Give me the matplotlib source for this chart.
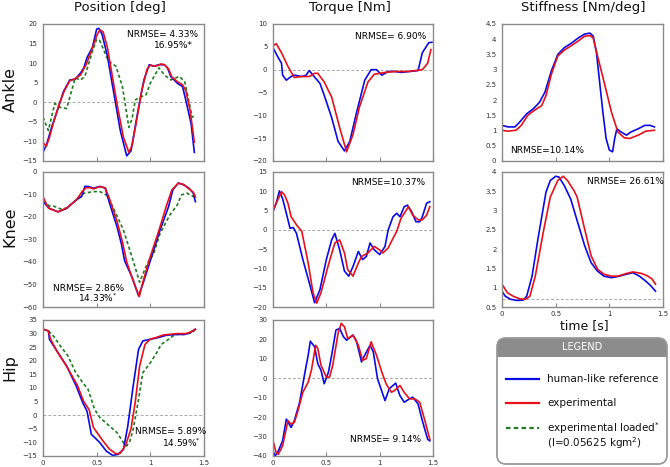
import matplotlib
matplotlib.use("Agg")
import matplotlib.pyplot as plt
from matplotlib.patches import FancyBboxPatch, Rectangle
from matplotlib.lines import Line2D

# ---------------- DATA ----------------
# Ankle position [deg]
ank_pos_ref_t = [0, 0.034, 0.08, 0.14, 0.19, 0.25, 0.30, 0.35, 0.38, 0.41, 0.46, 0.50, 0.52, 0.55, 0.60, 0.66, 0.72, 0.78, 0.82, 0.88, 0.94, 0.99, 1.03, 1.08, 1.13, 1.16, 1.19, 1.25, 1.30, 1.33, 1.38, 1.41]
ank_pos_ref = [-12.8, -10.7, -6.4, -1.6, 2.7, 5.7, 5.9, 7.5, 8.8, 11.4, 14.0, 18.7, 18.9, 17.4, 11.8, 2.3, -7.2, -13.7, -12.4, -2.9, 5.7, 9.6, 9.2, 9.6, 9.6, 8.8, 6.6, 4.9, 4.0, 0.6, -5.5, -12.8]
ank_pos_exp_t = [0, 0.03, 0.06, 0.10, 0.15, 0.20, 0.25, 0.30, 0.35, 0.40, 0.45, 0.50, 0.53, 0.56, 0.60, 0.65, 0.70, 0.75, 0.80, 0.83, 0.87, 0.92, 0.97, 1.00, 1.05, 1.10, 1.13, 1.17, 1.20, 1.25, 1.30, 1.33, 1.37, 1.41]
ank_pos_exp = [-10.2, -11.3, -9.0, -5.0, -0.5, 3.0, 5.5, 6.0, 7.0, 9.5, 13.0, 17.0, 18.5, 18.0, 14.0, 6.0, -2.0, -9.0, -12.8, -11.0, -5.0, 3.0, 8.5, 9.5, 9.2, 9.8, 9.6, 8.5, 6.5, 5.3, 4.5, 3.0, -2.0, -10.2]
ank_pos_load_t = [0, 0.05, 0.11, 0.16, 0.22, 0.30, 0.35, 0.39, 0.46, 0.50, 0.53, 0.61, 0.68, 0.74, 0.80, 0.83, 0.86, 0.91, 0.96, 1.00, 1.08, 1.13, 1.19, 1.27, 1.32, 1.35, 1.39, 1.42]
ank_pos_load = [-3.8, -7.2, -0.3, -1.3, -1.6, 6.2, 5.7, 6.6, 13.0, 16.1, 15.7, 10.5, 9.2, 4.0, -6.4, -4.2, 0.6, 1.4, 1.9, 4.9, 8.8, 7.0, 5.7, 6.6, 5.3, 1.4, -3.8, -3.5]

# Knee position [deg]
kn_pos_ref_t = [0, 0.06, 0.14, 0.22, 0.31, 0.36, 0.39, 0.42, 0.47, 0.53, 0.58, 0.62, 0.69, 0.73, 0.76, 0.83, 0.89, 0.93, 1.00, 1.09, 1.17, 1.21, 1.26, 1.31, 1.36, 1.40, 1.42]
kn_pos_ref = [-13.2, -16.2, -17.7, -16.2, -12.4, -10.9, -6.4, -6.4, -7.2, -6.4, -7.2, -13.9, -24.4, -31.9, -39.4, -46.8, -55.0, -49.8, -39.4, -25.9, -15.4, -7.9, -4.9, -5.7, -7.2, -9.4, -13.2]
kn_pos_exp_t = [0, 0.05, 0.14, 0.22, 0.31, 0.36, 0.40, 0.44, 0.47, 0.53, 0.58, 0.62, 0.69, 0.74, 0.78, 0.83, 0.897, 0.93, 0.99, 1.08, 1.15, 1.20, 1.26, 1.31, 1.36, 1.40, 1.42]
kn_pos_exp = [-11.0, -16.0, -17.7, -16.0, -12.5, -9.0, -7.0, -7.0, -7.5, -6.5, -7.0, -12.0, -22.0, -31.0, -40.0, -47.0, -55.4, -49.0, -39.0, -26.0, -15.0, -8.0, -5.0, -5.5, -7.5, -9.0, -11.0]
kn_pos_load_t = [0, 0.06, 0.10, 0.17, 0.22, 0.31, 0.38, 0.47, 0.53, 0.59, 0.65, 0.75, 0.83, 0.90, 0.97, 1.03, 1.09, 1.18, 1.25, 1.29, 1.34, 1.40, 1.43]
kn_pos_load = [-13.0, -15.1, -15.2, -16.5, -16.0, -12.4, -9.5, -8.7, -8.7, -10.2, -15.4, -25.9, -37.9, -49.0, -40.8, -36.4, -27.4, -19.2, -14.7, -10.2, -9.4, -10.9, -11.7]

# Hip position [deg]
hip_pos_ref_t = [0, 0.05, 0.06, 0.12, 0.22, 0.31, 0.37, 0.41, 0.43, 0.45, 0.53, 0.59, 0.65, 0.70, 0.75, 0.79, 0.84, 0.89, 0.93, 1.00, 1.07, 1.15, 1.25, 1.32, 1.37, 1.42]
hip_pos_ref = [31.6, 31.0, 27.9, 24.2, 18.1, 10.7, 4.6, 1.5, -2.7, -7.0, -10.1, -13.2, -14.8, -14.4, -12.5, -4.0, 10.7, 24.2, 27.3, 27.9, 28.5, 29.4, 29.7, 29.7, 30.3, 31.6]
hip_pos_exp_t = [0, 0.05, 0.07, 0.13, 0.22, 0.32, 0.38, 0.43, 0.47, 0.55, 0.62, 0.68, 0.72, 0.77, 0.82, 0.86, 0.90, 0.95, 1.00, 1.05, 1.12, 1.25, 1.33, 1.37, 1.42]
hip_pos_exp = [31.6, 31.0, 28.0, 23.5, 18.0, 11.0, 5.0, 2.0, -4.5, -9.0, -12.5, -14.2, -14.0, -11.0, -5.0, 5.0, 18.0, 26.0, 28.0, 28.5, 29.5, 30.0, 30.0, 30.5, 31.6]
hip_pos_load_t = [0, 0.05, 0.10, 0.17, 0.23, 0.30, 0.37, 0.42, 0.48, 0.53, 0.62, 0.69, 0.75, 0.78, 0.81, 0.84, 0.89, 0.93, 1.00, 1.06, 1.10, 1.15, 1.23, 1.31, 1.39, 1.42]
hip_pos_load = [31.6, 31.0, 29.0, 25.0, 22.0, 16.0, 12.0, 9.5, 2.2, -0.9, -4.0, -6.4, -10.1, -11.3, -9.5, -5.2, 5.8, 15.6, 19.3, 23.0, 26.0, 27.3, 29.7, 29.7, 30.3, 31.6]

# Ankle torque [Nm]
ank_tq_ref_t = [0, 0.05, 0.08, 0.09, 0.125, 0.17, 0.20, 0.27, 0.31, 0.34, 0.375, 0.44, 0.48, 0.55, 0.61, 0.67, 0.72, 0.78, 0.86, 0.92, 0.97, 1.02, 1.08, 1.14, 1.20, 1.28, 1.36, 1.40, 1.46, 1.49]
ank_tq_ref = [4.8, 2.6, 1.4, -1.2, -2.3, -1.5, -1.2, -1.5, -1.2, -0.2, -1.2, -3.0, -5.6, -10.5, -15.7, -17.8, -15.7, -9.7, -2.3, 0.0, 0.0, -1.2, -0.4, -0.4, -0.6, -0.4, -0.2, 3.7, 5.9, 6.0]
ank_tq_exp_t = [0, 0.03, 0.08, 0.14, 0.20, 0.27, 0.34, 0.39, 0.42, 0.48, 0.55, 0.625, 0.69, 0.75, 0.81, 0.89, 0.95, 1.05, 1.14, 1.27, 1.40, 1.45, 1.48]
ank_tq_exp = [5.2, 5.7, 3.7, 0.7, -1.7, -1.5, -1.5, -0.8, -0.8, -2.7, -6.0, -12.7, -18.0, -14.2, -8.2, -2.7, -1.0, -0.6, -0.4, -0.4, 0.0, 1.4, 4.4]

# Knee torque [Nm]
kn_tq_ref_t = [0, 0.03, 0.06, 0.09, 0.125, 0.16, 0.19, 0.22, 0.28, 0.34, 0.39, 0.44, 0.50, 0.55, 0.58, 0.625, 0.67, 0.71, 0.75, 0.80, 0.84, 0.875, 0.91, 0.95, 1.00, 1.05, 1.08, 1.125, 1.16, 1.19, 1.23, 1.26, 1.30, 1.34, 1.375, 1.40, 1.44, 1.47]
kn_tq_ref = [4.7, 6.9, 10.1, 8.1, 4.3, 0.4, 0.6, -0.9, -7.7, -13.7, -18.9, -15.5, -7.7, -2.6, -0.9, -5.2, -10.7, -12.0, -9.5, -5.6, -7.7, -6.9, -3.4, -5.2, -6.4, -4.3, 0.0, 3.4, 4.3, 3.4, 6.0, 6.4, 4.7, 2.1, 2.1, 3.4, 6.9, 7.3]
kn_tq_exp_t = [0, 0.03, 0.08, 0.11, 0.14, 0.17, 0.22, 0.27, 0.33, 0.375, 0.41, 0.45, 0.52, 0.58, 0.625, 0.67, 0.70, 0.75, 0.80, 0.83, 0.89, 0.95, 1.00, 1.03, 1.08, 1.125, 1.16, 1.20, 1.27, 1.31, 1.36, 1.40, 1.44, 1.47]
kn_tq_exp = [5.1, 6.9, 9.9, 9.0, 6.9, 3.4, 1.3, -0.4, -8.6, -16.3, -19.0, -16.3, -9.0, -3.4, -2.6, -6.0, -10.3, -12.0, -8.6, -6.9, -6.0, -4.3, -5.2, -6.0, -4.7, -2.2, -0.4, 3.0, 6.0, 3.8, 2.6, 2.6, 3.8, 6.0]

# Hip torque [Nm]
hip_tq_ref_t = [0, 0.02, 0.05, 0.09, 0.125, 0.16, 0.17, 0.20, 0.25, 0.30, 0.33, 0.35, 0.39, 0.42, 0.45, 0.48, 0.52, 0.55, 0.59, 0.625, 0.66, 0.69, 0.75, 0.78, 0.83, 0.86, 0.91, 0.94, 0.98, 1.05, 1.09, 1.15, 1.19, 1.23, 1.28, 1.31, 1.36, 1.40, 1.45, 1.47]
hip_tq_ref = [-37.4, -40.0, -37.4, -32.2, -21.0, -24.4, -25.3, -21.8, -12.3, 3.2, 11.9, 19.1, 16.2, 7.5, 4.1, -2.8, 3.2, 11.9, 24.8, 25.7, 21.4, 19.6, 22.2, 19.6, 8.4, 11.9, 17.0, 13.6, -0.2, -11.5, -5.4, -2.5, -8.9, -12.3, -10.6, -9.7, -13.2, -21.8, -31.4, -32.2]
hip_tq_exp_t = [0, 0.03, 0.05, 0.09, 0.14, 0.17, 0.20, 0.23, 0.28, 0.33, 0.36, 0.40, 0.42, 0.45, 0.50, 0.53, 0.56, 0.61, 0.64, 0.67, 0.70, 0.75, 0.80, 0.84, 0.875, 0.92, 0.97, 1.02, 1.06, 1.11, 1.14, 1.19, 1.23, 1.28, 1.33, 1.375, 1.42, 1.47]
hip_tq_exp = [-32.2, -38.3, -39.1, -34.8, -21.8, -23.6, -22.7, -17.5, -7.2, -2.0, 4.1, 17.0, 15.3, 6.7, 0.6, 0.6, 6.7, 23.1, 28.3, 26.5, 20.5, 22.2, 17.0, 9.3, 10.1, 18.8, 11.9, 3.2, -2.8, -7.2, -6.3, -3.7, -7.2, -10.6, -10.6, -12.3, -21.0, -31.4]

# Ankle stiffness [Nm/deg]
ank_st_ref_t = [0, 0.056, 0.12, 0.16, 0.23, 0.29, 0.35, 0.40, 0.46, 0.52, 0.58, 0.65, 0.71, 0.77, 0.82, 0.85, 0.88, 0.91, 0.94, 0.97, 1.00, 1.03, 1.05, 1.07, 1.11, 1.16, 1.20, 1.27, 1.33, 1.38, 1.42]
ank_st_ref = [1.17, 1.12, 1.12, 1.26, 1.55, 1.71, 1.93, 2.26, 2.96, 3.50, 3.72, 3.88, 4.04, 4.17, 4.20, 4.10, 3.56, 2.58, 1.60, 0.74, 0.36, 0.30, 0.74, 1.06, 0.95, 0.85, 0.95, 1.06, 1.17, 1.17, 1.12]
ank_st_exp_t = [0, 0.056, 0.13, 0.18, 0.24, 0.30, 0.37, 0.41, 0.46, 0.52, 0.58, 0.65, 0.71, 0.77, 0.82, 0.85, 0.89, 0.96, 1.02, 1.08, 1.14, 1.19, 1.27, 1.34, 1.42]
ank_st_exp = [1.01, 0.98, 1.01, 1.17, 1.50, 1.66, 1.82, 2.15, 2.85, 3.45, 3.64, 3.80, 3.94, 4.10, 4.12, 4.04, 3.45, 2.47, 1.60, 0.95, 0.76, 0.74, 0.85, 0.98, 1.01]

# Knee stiffness [Nm/deg]
kn_st_ref_t = [0, 0.03, 0.08, 0.14, 0.20, 0.23, 0.28, 0.34, 0.41, 0.45, 0.50, 0.53, 0.58, 0.64, 0.70, 0.77, 0.83, 0.89, 0.95, 1.02, 1.08, 1.16, 1.22, 1.28, 1.34, 1.39, 1.43]
kn_st_ref = [0.91, 0.78, 0.70, 0.67, 0.68, 0.78, 1.30, 2.35, 3.48, 3.78, 3.89, 3.87, 3.65, 3.30, 2.74, 2.09, 1.65, 1.43, 1.30, 1.26, 1.29, 1.35, 1.39, 1.30, 1.17, 1.04, 0.91]
kn_st_exp_t = [0, 0.05, 0.11, 0.17, 0.22, 0.26, 0.31, 0.39, 0.45, 0.52, 0.57, 0.61, 0.67, 0.70, 0.77, 0.83, 0.89, 0.95, 1.02, 1.08, 1.16, 1.22, 1.30, 1.36, 1.40, 1.43]
kn_st_exp = [1.09, 0.87, 0.77, 0.71, 0.70, 0.78, 1.30, 2.52, 3.35, 3.78, 3.89, 3.78, 3.52, 3.35, 2.52, 1.83, 1.48, 1.35, 1.30, 1.30, 1.37, 1.41, 1.37, 1.30, 1.22, 1.09]

col_titles = ["Position [deg]", "Torque [Nm]", "Stiffness [Nm/deg]"]
row_titles = ["Ankle", "Knee", "Hip"]
xlabel_text = "time [s]"

# ---------------- STYLE / LAYOUT ----------------
W, H = 670, 467
fig = plt.figure(figsize=(W / 100, H / 100), dpi=100)
BLUE = "#0a0ae6"
RED = "#e8101a"
GREEN = "#1e7d1e"
FRAME = "#8a8a8a"
LW = 1.2

col_x = [(43, 204), (273, 433), (502, 663)]
row_y = [(24, 161), (172, 307), (320, 456)]


def make_ax(c, r):
    x0, x1 = col_x[c]
    y0, y1 = row_y[r]
    ax = fig.add_axes([x0 / W, 1 - y1 / H, (x1 - x0) / W, (y1 - y0) / H])
    for s in ax.spines.values():
        s.set_color(FRAME)
        s.set_linewidth(1.0)
    ax.set_xlim(0, 1.5)
    ax.set_xticks([0, 0.5, 1, 1.5])
    ax.set_xticklabels(["0", "0.5", "1", "1.5"])
    ax.tick_params(axis="x", direction="in", length=3, color=FRAME, labelsize=5,
                   labelcolor="#333333", pad=3)
    ax.tick_params(axis="y", length=0, labelsize=5, labelcolor="#333333", pad=4)
    return ax


def zero_line(ax, y=0):
    ax.axhline(y, color="#aaaaaa", lw=0.7, ls=(0, (3, 2)), zorder=1)


fs_ann = 6.5

# ---- Column 1: position ----
ax = make_ax(0, 0)
zero_line(ax)
ax.plot(ank_pos_load_t, ank_pos_load, color=GREEN, lw=LW, ls=(0, (2, 1.5)))
ax.plot(ank_pos_ref_t, ank_pos_ref, color=BLUE, lw=LW)
ax.plot(ank_pos_exp_t, ank_pos_exp, color=RED, lw=LW)
ax.set_ylim(-15, 20)
ax.set_yticks(range(-15, 21, 5))
ax.set_xticklabels([])
ax.text(0.52, 0.92, "NRMSE= 4.33%", transform=ax.transAxes, fontsize=fs_ann, va="center")
ax.text(0.93, 0.84, "16.95%*", transform=ax.transAxes, fontsize=fs_ann, va="center", ha="right")

ax = make_ax(0, 1)
ax.plot(kn_pos_load_t, kn_pos_load, color=GREEN, lw=LW, ls=(0, (2, 1.5)))
ax.plot(kn_pos_ref_t, kn_pos_ref, color=BLUE, lw=LW)
ax.plot(kn_pos_exp_t, kn_pos_exp, color=RED, lw=LW)
ax.set_ylim(-60, 0)
ax.set_yticks(range(-60, 1, 10))
ax.set_xticklabels([])
ax.text(0.06, 0.14, "NRMSE= 2.86%", transform=ax.transAxes, fontsize=fs_ann, va="center")
ax.text(0.46, 0.07, "14.33%$^{*}$", transform=ax.transAxes, fontsize=fs_ann, va="center", ha="right")

ax = make_ax(0, 2)
zero_line(ax)
ax.plot(hip_pos_load_t, hip_pos_load, color=GREEN, lw=LW, ls=(0, (2, 1.5)))
ax.plot(hip_pos_ref_t, hip_pos_ref, color=BLUE, lw=LW)
ax.plot(hip_pos_exp_t, hip_pos_exp, color=RED, lw=LW)
ax.set_ylim(-15, 35)
ax.set_yticks(range(-15, 36, 5))
ax.text(0.57, 0.18, "NRMSE= 5.89%", transform=ax.transAxes, fontsize=fs_ann, va="center")
ax.text(0.98, 0.10, "14.59%$^{*}$", transform=ax.transAxes, fontsize=fs_ann, va="center", ha="right")

# ---- Column 2: torque ----
ax = make_ax(1, 0)
zero_line(ax)
ax.plot(ank_tq_ref_t, ank_tq_ref, color=BLUE, lw=LW)
ax.plot(ank_tq_exp_t, ank_tq_exp, color=RED, lw=LW)
ax.set_ylim(-20, 10)
ax.set_yticks(range(-20, 11, 5))
ax.set_xticklabels([])
ax.text(0.51, 0.91, "NRMSE= 6.90%", transform=ax.transAxes, fontsize=fs_ann, va="center")

ax = make_ax(1, 1)
zero_line(ax)
ax.plot(kn_tq_ref_t, kn_tq_ref, color=BLUE, lw=LW)
ax.plot(kn_tq_exp_t, kn_tq_exp, color=RED, lw=LW)
ax.set_ylim(-20, 15)
ax.set_yticks(range(-20, 16, 5))
ax.set_xticklabels([])
ax.text(0.49, 0.92, "NRMSE=10.37%", transform=ax.transAxes, fontsize=fs_ann, va="center")

ax = make_ax(1, 2)
zero_line(ax)
ax.plot(hip_tq_ref_t, hip_tq_ref, color=BLUE, lw=LW)
ax.plot(hip_tq_exp_t, hip_tq_exp, color=RED, lw=LW)
ax.set_ylim(-40, 30)
ax.set_yticks(range(-40, 31, 10))
ax.text(0.48, 0.12, "NRMSE= 9.14%", transform=ax.transAxes, fontsize=fs_ann, va="center")

# ---- Column 3: stiffness ----
ax = make_ax(2, 0)
ax.plot(ank_st_ref_t, ank_st_ref, color=BLUE, lw=LW)
ax.plot(ank_st_exp_t, ank_st_exp, color=RED, lw=LW)
ax.set_ylim(0, 4.5)
ax.set_yticks([0, 0.5, 1, 1.5, 2, 2.5, 3, 3.5, 4, 4.5])
ax.set_yticklabels(["0", "0.5", "1", "1.5", "2", "2.5", "3", "3.5", "4", "4.5"])
ax.set_xticklabels([])
ax.text(0.05, 0.08, "NRMSE=10.14%", transform=ax.transAxes, fontsize=fs_ann, va="center")

ax = make_ax(2, 1)
zero_line(ax, 0.7)
ax.plot(kn_st_ref_t, kn_st_ref, color=BLUE, lw=LW)
ax.plot(kn_st_exp_t, kn_st_exp, color=RED, lw=LW)
ax.set_ylim(0.5, 4)
ax.set_yticks([0.5, 1, 1.5, 2, 2.5, 3, 3.5, 4])
ax.set_yticklabels(["0.5", "1", "1.5", "2", "2.5", "3", "3.5", "4"])
ax.text(0.53, 0.93, "NRMSE= 26.61%", transform=ax.transAxes, fontsize=fs_ann, va="center")

# ---- Titles ----
for txt, xc in zip(col_titles, [120, 350, 583]):
    fig.text(xc / W, 1 - 8 / H, txt, fontsize=9.5, ha="center", va="center", color="#111111")
for txt, yc in zip(row_titles, [89, 227, 368]):
    fig.text(10 / W, 1 - yc / H, txt, fontsize=11.5, ha="center", va="center", rotation=90, color="#111111")
fig.text(584 / W, 1 - 326 / H, xlabel_text, fontsize=9, ha="center", va="center", color="#111111")

# ---- Legend box (overlay in pixel coordinates) ----
ov = fig.add_axes([0, 0, 1, 1], zorder=5)
ov.set_xlim(0, W)
ov.set_ylim(H, 0)
ov.axis("off")
bx0, bx1, by0, by1 = 497, 667, 338, 464
rad = 9
box = FancyBboxPatch((bx0 + rad, by0 + rad), (bx1 - bx0) - 2 * rad, (by1 - by0) - 2 * rad,
                     boxstyle="round,pad=%d" % rad, facecolor="white", edgecolor="#9a9a9a", lw=1.0)
ov.add_patch(box)
hdr = Rectangle((bx0, by0), bx1 - bx0, 19, facecolor="#8c8c8c", edgecolor="none")
ov.add_patch(hdr)
hdr.set_clip_path(box)
box2 = FancyBboxPatch((bx0 + rad, by0 + rad), (bx1 - bx0) - 2 * rad, (by1 - by0) - 2 * rad,
                      boxstyle="round,pad=%d" % rad, facecolor="none", edgecolor="#9a9a9a", lw=1.0)
ov.add_patch(box2)
ov.text((bx0 + bx1) / 2, by0 + 9.5, "LEGEND", color="white", fontsize=7, ha="center", va="center")

fs_leg = 7.5
entries = [(379, BLUE, "-", "human-like reference"),
           (403, RED, "-", "experimental"),
           (428, GREEN, (0, (2, 1.5)), "experimental loaded$^{*}$")]
for yy, col, ls, lab in entries:
    ov.add_line(Line2D([506, 539], [yy, yy], color=col, lw=1.6, ls=ls))
    ov.text(547, yy, lab, fontsize=fs_leg, va="center", ha="left", color="#111111")
ov.text(547, 443, "(I=0.05625 kgm$^{2}$)", fontsize=fs_leg, va="center", ha="left", color="#111111")

fig.savefig("out.png", dpi=100)
